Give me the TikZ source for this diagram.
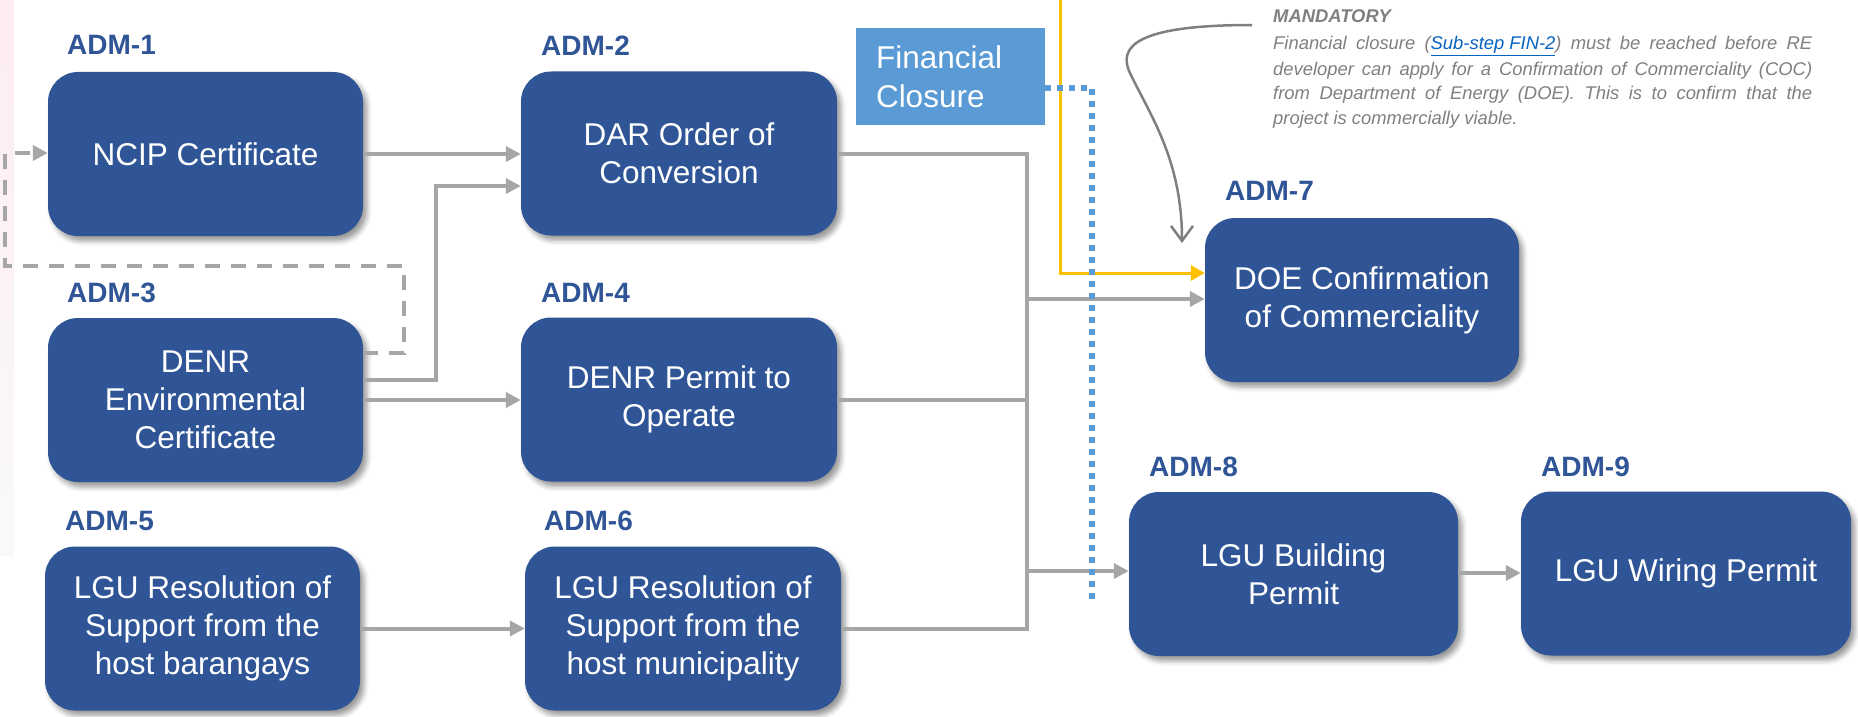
\documentclass[tikz,border=0pt]{standalone}
\usepackage{fontspec}
\setmainfont{Liberation Sans}
\usetikzlibrary{arrows.meta,shadows.blur,calc}
\definecolor{boxblue}{RGB}{47,85,151}
\definecolor{fcblue}{RGB}{91,155,213}
\definecolor{linegray}{RGB}{166,166,166}
\definecolor{ambercol}{RGB}{255,192,0}
\definecolor{notegray}{RGB}{127,127,127}
\definecolor{linkblue}{RGB}{5,99,193}
\definecolor{stripink}{RGB}{253,236,241}
\definecolor{stripend}{RGB}{250,249,250}
\tikzset{
  adm/.style={fill=boxblue, rounded corners=30pt, text=white, align=center,
    inner sep=0pt, minimum height=164pt, font=\fontsize{31.5}{38}\selectfont,
    blur shadow={shadow xshift=4pt, shadow yshift=-5pt, shadow blur radius=5pt, shadow opacity=40}},
  admlabel/.style={anchor=base west, inner sep=0pt, text=boxblue,
    font=\fontsize{28}{30}\selectfont\bfseries},
  gline/.style={draw=linegray, line width=4pt},
  garrow/.style={gline, -{Triangle[length=15pt,width=15pt]}},
  gdash/.style={gline, dash pattern=on 15pt off 11pt, -{Triangle[length=15pt,width=15pt]}},
  yarrow/.style={draw=ambercol, line width=3pt, -{Triangle[length=14pt,width=15pt]}},
  bdots/.style={draw=fcblue, line width=6pt, dash pattern=on 6pt off 6pt},
  notearrow/.style={draw=notegray, line width=2.5pt, -{Straight Barb[length=15pt,width=22pt]}},
}
\begin{document}
\begin{tikzpicture}[x=1pt,y=-1pt]
\useasboundingbox (0,0) rectangle (1858,717);
\shade[top color=stripink, bottom color=stripend] (0,0) rectangle (14,555);

% boxes
\node[adm, minimum width=315pt] (a1) at (205.5,154) {NCIP Certificate};
\node[adm, minimum width=316pt] (a2) at (679,153.5) {DAR Order of\\Conversion};
\node[adm, minimum width=315pt] (a3) at (205.5,400) {DENR\\Environmental\\Certificate};
\node[adm, minimum width=316pt] (a4) at (679,399.5) {DENR Permit to\\Operate};
\node[adm, minimum width=315pt] (a5) at (202.5,628.5) {LGU Resolution of\\Support from the\\host barangays};
\node[adm, minimum width=316pt] (a6) at (683,628.5) {LGU Resolution of\\Support from the\\host municipality};
\node[adm, minimum width=314pt] (a7) at (1362,300) {DOE Confirmation\\of Commerciality};
\node[adm, minimum width=329pt] (a8) at (1293.5,574) {LGU Building\\Permit};
\node[adm, minimum width=330pt] (a9) at (1686,573.5) {LGU Wiring Permit};

% labels
\node[admlabel] (l1) at (67,55) {ADM-1};
\node[admlabel] (l2) at (541,56) {ADM-2};
\node[admlabel] (l3) at (67,302) {ADM-3};
\node[admlabel] (l4) at (541,302) {ADM-4};
\node[admlabel] (l5) at (65,530) {ADM-5};
\node[admlabel] (l6) at (544,530) {ADM-6};
\node[admlabel] (l7) at (1225,200) {ADM-7};
\node[admlabel] (l8) at (1149,476) {ADM-8};
\node[admlabel] (l9) at (1541,476) {ADM-9};

% financial closure
\node[fill=fcblue, text=white, align=left, inner xsep=20pt, inner ysep=0pt,
  text width=149pt, minimum height=97pt, font=\fontsize{31.5}{39}\selectfont]
  (fc) at (950.5,76.5) {Financial\\Closure};

% note
\node[anchor=base west, inner sep=0pt, text=notegray,
  font=\fontsize{18.4}{25}\selectfont\bfseries\itshape] (mand) at (1273,23) {MANDATORY};
\node[anchor=base west, inner sep=0pt, text=notegray] (note) at (1273,50)
  {\parbox[t]{539pt}{\fontsize{18.4}{25}\selectfont\itshape
  Financial closure (\textcolor{linkblue}{\underline{Sub-step FIN-2}}) must be reached before RE\linebreak
  developer can apply for a Confirmation of Commerciality (COC)\linebreak
  from Department of Energy (DOE). This is to confirm that the\linebreak
  project is commercially viable.}};

% trunk coordinates
\coordinate (ttop) at (1027,153.5);
\coordinate (tbot) at (1027,628.5);
\coordinate (t7) at (1027,299);
\coordinate (t8) at (1027,571);
\coordinate (t4) at (1027,399.5);

% connectors
\draw[garrow] (a1.east) -- (a1.east -| a2.west);
\draw[garrow] (a3.east |- 0,380) -- (436,380) -- (436,186) -- (a2.west |- 0,186);
\draw[garrow] (a3.east) -- (a3.east -| a4.west);
\draw[garrow] (a5.east) -- (a5.east -| a6.west);
\draw[gline] (a2.east) -- (ttop) -- (tbot) -- (a6.east);
\draw[gline] (a4.east) -- (t4);
\draw[garrow] (t7) -- (t7 -| a7.west);
\draw[garrow] (t8) -- (t8 -| a8.west);
\draw[garrow] (a8.east |- 0,573) -- (a9.west |- 0,573);
\draw[gdash] (a3.east |- 0,353) -- (404,353) -- (404,266) -- (5,266) -- (5,153) -- (a1.west |- 0,153);

% yellow
\coordinate (ytop) at (1060,0);
\draw[yarrow] (ytop) -- (1060,273) -- (a7.west |- 0,273);

% note curved arrow
\coordinate (nstart) at (1252,25);
\draw[notearrow] (nstart) .. controls (1140,25) and (1115,45) .. (1131,75)
  .. controls (1150,115) and (1182,160) .. (1182,243);

% blue dotted
\coordinate (bend) at (1092,605);
\draw[bdots] (fc.east |- 0,88) -- (1092,88) -- (bend);
\end{tikzpicture}
\end{document}
